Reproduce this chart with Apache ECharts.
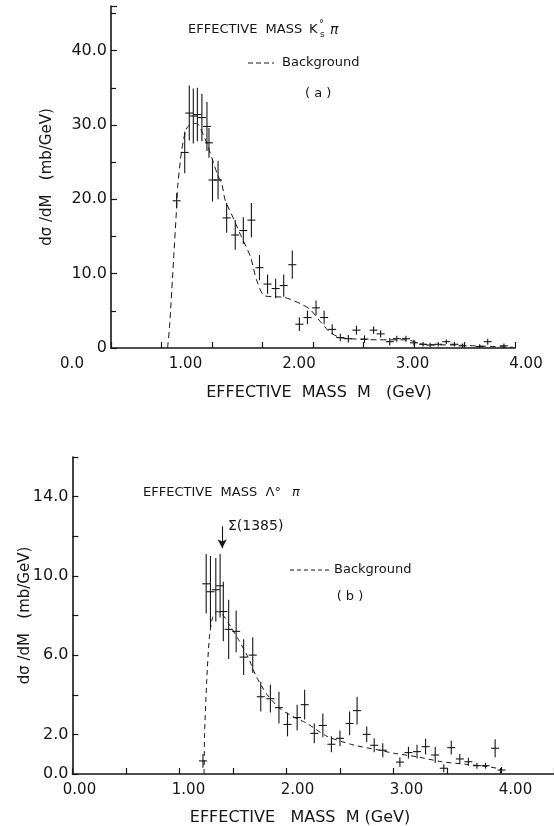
<!DOCTYPE html>
<html><head><meta charset="utf-8">
<script src="https://cdn.jsdelivr.net/npm/echarts@6/dist/echarts.min.js"></script>
<style>html,body{margin:0;padding:0;background:#fff}#c{width:554px;height:826px}</style>
</head><body><div id="c"></div>
<script>
// ---------- Panel (a): K0s pi ----------
const aMass  = [0.65,0.73,0.775,0.815,0.855,0.90,0.95,0.97,1.005,1.06,1.145,1.23,1.31,1.39,1.47,1.55,1.63,1.71,1.795,1.865,1.945,2.03,2.11,2.19,2.27,2.35,2.43,2.51,2.60,2.67,2.76,2.83,2.92,3.00,3.09,3.16,3.24,3.32,3.40,3.48,3.65,3.73,3.89];
const aValue = [19.8,26.3,31.6,31.2,31.4,31.0,29.8,27.6,22.6,22.6,17.5,15.2,15.8,17.2,10.8,8.6,8.0,8.4,11.2,3.2,4.1,5.4,4.1,2.5,1.4,1.25,2.4,1.2,2.4,1.9,0.85,1.25,1.25,0.7,0.5,0.4,0.5,0.85,0.5,0.3,0.2,0.85,0.3];
const aError = [1.0,2.8,3.7,3.7,3.6,3.2,3.3,2.0,2.9,2.6,2.0,2.0,1.8,2.3,1.7,1.3,1.3,1.5,1.9,0.9,0.9,1.0,0.9,0.7,0.5,0.5,0.6,0.5,0.5,0.5,0.5,0.4,0.4,0.4,0.3,0.3,0.3,0.3,0.3,0.3,0.3,0.4,0.3];
const aBgMass  = [0.56,0.58,0.62,0.65,0.66,0.70,0.74,0.77,0.81,0.85,0.90,0.95,1.00,1.05,1.10,1.13,1.21,1.29,1.38,1.44,1.51,1.61,1.72,1.87,1.97,2.07,2.17,2.27,2.43,2.63,2.93,3.09,3.39,3.58,3.78,3.98];
const aBgValue = [0,2.9,12,19,21.7,26.6,29.3,29.9,30.2,30.2,29.1,27.5,25.5,23.5,21.9,19.9,17.5,15.0,12.3,9.2,7.1,6.9,6.8,6.0,5.2,3.6,2.1,1.4,1.2,1.1,1.1,0.5,0.4,0.3,0.2,0.1];
const aXTickLabels = ['0.0','1.00','2.00','3.00','4.00'];

// ---------- Panel (b): Lambda0 pi ----------
const bMass  = [1.22,1.25,1.29,1.34,1.38,1.41,1.46,1.53,1.60,1.685,1.76,1.85,1.93,2.01,2.10,2.17,2.26,2.34,2.42,2.50,2.59,2.66,2.75,2.82,2.90,3.06,3.14,3.22,3.30,3.39,3.47,3.54,3.62,3.70,3.78,3.86,3.95,4.01];
const bValue = [0.66,9.6,9.2,9.3,9.5,8.2,7.3,7.2,5.9,6.0,3.9,3.8,3.35,2.5,2.85,3.5,2.05,2.45,1.5,1.8,2.55,3.2,2.0,1.45,1.2,0.6,1.08,1.13,1.38,0.96,0.29,1.33,0.76,0.62,0.42,0.42,1.3,0.2];
const bError = [0.35,1.5,1.8,1.6,1.6,1.5,1.5,1.05,0.9,0.9,0.75,0.7,0.8,0.6,0.65,0.75,0.5,0.6,0.4,0.4,0.6,0.7,0.4,0.35,0.35,0.25,0.3,0.35,0.4,0.4,0.2,0.35,0.25,0.2,0.15,0.15,0.45,0.15];
const bBgMass  = [1.23,1.235,1.255,1.28,1.31,1.35,1.395,1.46,1.55,1.645,1.72,1.82,1.94,2.06,2.19,2.38,2.63,2.87,3.00,3.22,3.45,3.68,3.88,4.01];
const bBgValue = [0,2.0,4.7,6.9,7.9,8.2,8.1,7.6,6.8,5.85,4.9,4.0,3.3,2.9,2.56,1.9,1.46,1.2,1.05,0.87,0.62,0.49,0.37,0.25];
const bXTickLabels = ['0.00','1.00','2.00','3.00','4.00'];
const bArrowMass = 1.40, bArrowFrom = 12.5, bArrowTo = 11.4;

const FONT = 'DejaVu Sans';
const INK = '#161616';

const zip = (xs, ys, es) => xs.map((x, i) => es ? [x, ys[i], es[i]] : [x, ys[i]]);

function crossItem(params, api) {
  const x = api.value(0), y = api.value(1), e = api.value(2);
  const c = api.coord([x, y]);
  const t = api.coord([x, y + e]);
  const b = api.coord([x, Math.max(y - e, 0)]);
  const hw = 4;
  return { type: 'group', children: [
    { type: 'line', shape: { x1: c[0], y1: t[1], x2: c[0], y2: b[1] }, style: { stroke: INK, lineWidth: 1.1 } },
    { type: 'line', shape: { x1: c[0] - hw, y1: c[1], x2: c[0] + hw, y2: c[1] }, style: { stroke: INK, lineWidth: 1.1 } }
  ]};
}

const chart = echarts.init(document.getElementById('c'), null, { renderer: 'canvas' });

const axisLine = { show: true, onZero: false, lineStyle: { color: INK, width: 1.6 } };
const tickIn = { show: true, inside: true, length: 6, lineStyle: { color: INK, width: 1.2 } };
const minorIn = { show: true, splitNumber: 2, length: 5, lineStyle: { color: INK, width: 1.2 } };

const option = {
  animation: false,
  backgroundColor: '#fff',
  grid: [
    { left: 111, width: 404, top: 6, height: 342 },      // (a) data
    { left: 72, width: 454, top: 6, height: 342 },       // (a) x labels
    { left: 72.4, width: 481.6, top: 457, height: 317 }, // (b) data
    { left: 79.5, width: 436, top: 457, height: 317 }    // (b) x labels
  ],
  xAxis: [
    { gridIndex: 0, type: 'value', min: 0, max: 4, interval: 0.5,
      axisLine, axisTick: tickIn, minorTick: { show: false }, axisLabel: { show: false }, splitLine: { show: false } },
    { gridIndex: 1, type: 'value', min: 0, max: 4, interval: 1,
      axisLine: { show: false }, axisTick: { show: false }, splitLine: { show: false },
      axisLabel: { show: true, margin: 9, color: INK, fontFamily: FONT, fontSize: 15,
        formatter: v => aXTickLabels[Math.round(v)] } },
    { gridIndex: 2, type: 'value', min: 0, max: 4.5, interval: 0.5,
      axisLine, axisTick: tickIn, axisLabel: { show: false }, splitLine: { show: false } },
    { gridIndex: 3, type: 'value', min: 0, max: 4, interval: 1,
      axisLine: { show: false }, axisTick: { show: false }, splitLine: { show: false },
      axisLabel: { show: true, margin: 9, color: INK, fontFamily: FONT, fontSize: 15,
        formatter: v => bXTickLabels[Math.round(v)] } }
  ],
  yAxis: [
    { gridIndex: 0, type: 'value', min: 0, max: 46, interval: 10,
      axisLine, axisTick: tickIn, minorTick: minorIn, splitLine: { show: false },
      axisLabel: { color: INK, fontFamily: FONT, fontSize: 16, margin: 4,
        formatter: v => (v % 10 !== 0 ? '' : (v === 0 ? '0' : v.toFixed(1))) },
      name: 'd\u03C3 /dM   (mb/GeV)', nameLocation: 'middle', nameRotate: 90, nameGap: 56, nameMoveOverlap: false,
      nameTextStyle: { color: INK, fontFamily: FONT, fontSize: 15 } },
    { gridIndex: 1, type: 'value', min: 0, max: 46, show: false },
    { gridIndex: 2, type: 'value', min: 0, max: 16, interval: 2,
      axisLine, axisTick: tickIn, splitLine: { show: false },
      axisLabel: { color: INK, fontFamily: FONT, fontSize: 16, margin: 4,
        formatter: v => ((v === 0 || v % 4 === 2) ? v.toFixed(1) : '') },
      name: 'd\u03C3 /dM   (mb/GeV)', nameLocation: 'middle', nameRotate: 90, nameGap: 40, nameMoveOverlap: false,
      nameTextStyle: { color: INK, fontFamily: FONT, fontSize: 15 } },
    { gridIndex: 3, type: 'value', min: 0, max: 16, show: false }
  ],
  series: [
    { name: 'a-bg', type: 'line', xAxisIndex: 0, yAxisIndex: 0, data: zip(aBgMass, aBgValue),
      showSymbol: false, smooth: 0.25, lineStyle: { color: INK, width: 1, type: [6, 4] } },
    { name: 'a-data', type: 'custom', xAxisIndex: 0, yAxisIndex: 0, data: zip(aMass, aValue, aError),
      renderItem: crossItem, encode: { x: 0, y: 1 } },
    { name: 'b-bg', type: 'line', xAxisIndex: 2, yAxisIndex: 2, data: zip(bBgMass, bBgValue),
      showSymbol: false, smooth: 0.25, lineStyle: { color: INK, width: 1, type: [5, 4] },
      markLine: { silent: true, symbol: ['none', 'arrow'], symbolSize: [7, 9], label: { show: false },
        lineStyle: { color: INK, width: 1.1, type: 'solid' },
        data: [[{ coord: [bArrowMass, bArrowFrom] }, { coord: [bArrowMass, bArrowTo] }]] } },
    { name: 'b-data', type: 'custom', xAxisIndex: 2, yAxisIndex: 2, data: zip(bMass, bValue, bError),
      renderItem: crossItem, encode: { x: 0, y: 1 } }
  ],
  graphic: [
    // panel (a) annotations
    { type: 'text', left: 188, top: 23, style: { text: 'EFFECTIVE  MASS', font: '13px "' + FONT + '"', fill: INK } },
    { type: 'text', left: 309, top: 23, style: { text: 'K', font: '13px "' + FONT + '"', fill: INK } },
    { type: 'text', left: 319, top: 19, style: { text: '\u00B0', font: '10px "' + FONT + '"', fill: INK } },
    { type: 'text', left: 320, top: 30, style: { text: 's', font: '9px "' + FONT + '"', fill: INK } },
    { type: 'text', left: 330, top: 23, style: { text: '\u03C0', font: 'italic 14px "' + FONT + '"', fill: INK } },
    { type: 'line', shape: { x1: 248, y1: 63, x2: 274, y2: 63 }, style: { stroke: INK, lineWidth: 1, lineDash: [5, 3] } },
    { type: 'text', left: 282, top: 56, style: { text: 'Background', font: '13px "' + FONT + '"', fill: INK } },
    { type: 'text', left: 305, top: 87, style: { text: '( a )', font: '13px "' + FONT + '"', fill: INK } },
    { type: 'text', x: 319, y: 393, style: { text: 'EFFECTIVE  MASS  M   (GeV)', font: '16px "' + FONT + '"', fill: INK, align: 'center', verticalAlign: 'middle' } },
    // panel (b) annotations
    { type: 'text', left: 143, top: 486, style: { text: 'EFFECTIVE  MASS  \u039B\u00B0', font: '13px "' + FONT + '"', fill: INK } },
    { type: 'text', left: 292, top: 486, style: { text: '\u03C0', font: 'italic 13px "' + FONT + '"', fill: INK } },
    { type: 'text', left: 228, top: 519, style: { text: '\u03A3(1385)', font: '14px "' + FONT + '"', fill: INK } },
    { type: 'line', shape: { x1: 290, y1: 570, x2: 331, y2: 570 }, style: { stroke: INK, lineWidth: 1, lineDash: [4, 3] } },
    { type: 'text', left: 334, top: 563, style: { text: 'Background', font: '13px "' + FONT + '"', fill: INK } },
    { type: 'text', x: 350, y: 597, style: { text: '( b )', font: '13px "' + FONT + '"', fill: INK, align: 'center', verticalAlign: 'middle' } },
    { type: 'text', x: 300, y: 818, style: { text: 'EFFECTIVE   MASS  M (GeV)', font: '16px "' + FONT + '"', fill: INK, align: 'center', verticalAlign: 'middle' } }
  ]
};
chart.setOption(option);
</script>
</body></html>
